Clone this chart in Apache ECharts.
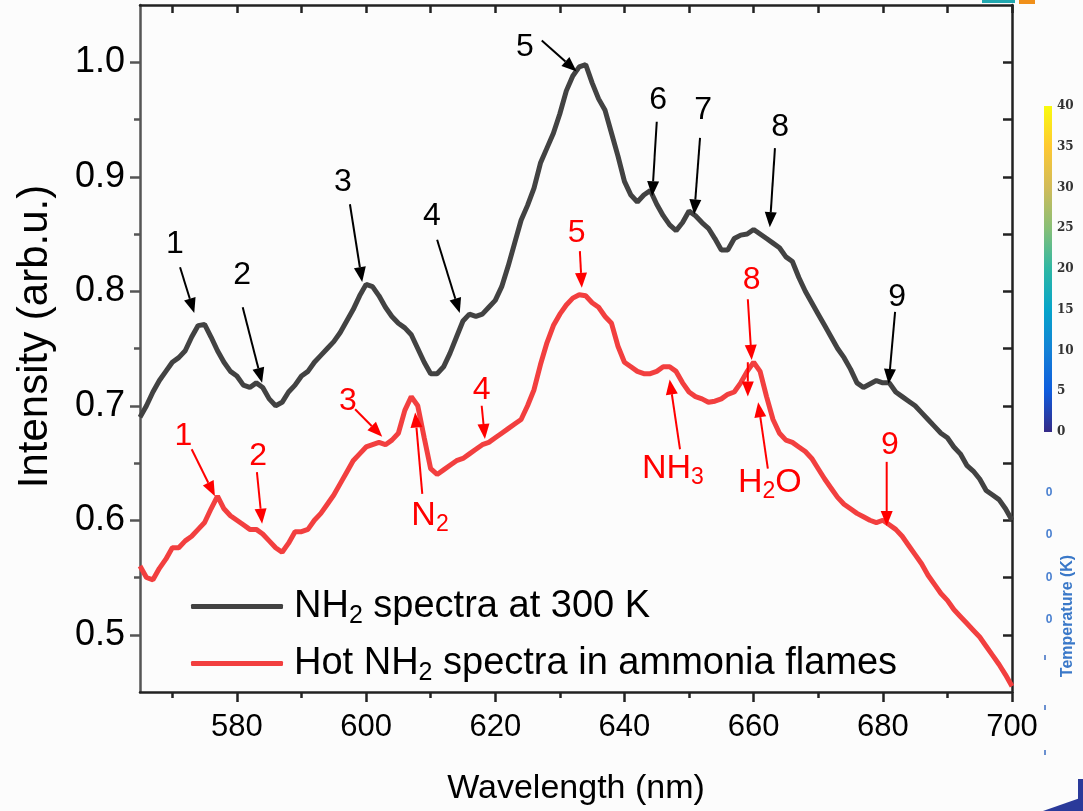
<!DOCTYPE html>
<html>
<head>
<meta charset="utf-8">
<title>NH2 spectra</title>
<script src="https://cdn.jsdelivr.net/npm/echarts/dist/echarts.min.js"></script>
<style>
  html, body { margin: 0; padding: 0; background: #fcfcfc; }
  #chart { width: 1083px; height: 811px; }
</style>
</head>
<body>
<div id="chart"></div>
<script>
// intensity, one value per nm from 565 to 700
const startWavelength = 565
const blackIntensity = [
  0.690, 0.700, 0.712, 0.722, 0.730, 0.738, 0.742, 0.748, 0.760, 0.770,
  0.771, 0.760, 0.748, 0.738, 0.730, 0.726, 0.718, 0.716, 0.720, 0.716,
  0.706, 0.700, 0.703, 0.712, 0.718, 0.726, 0.730, 0.738, 0.744, 0.750,
  0.756, 0.764, 0.774, 0.784, 0.796, 0.806, 0.804, 0.796, 0.786, 0.778,
  0.772, 0.768, 0.762, 0.750, 0.738, 0.728, 0.728, 0.734, 0.746, 0.760,
  0.774, 0.780, 0.778, 0.780, 0.786, 0.792, 0.804, 0.822, 0.842, 0.862,
  0.875, 0.890, 0.912, 0.925, 0.938, 0.955, 0.975, 0.988, 0.996, 0.998,
  0.982, 0.968, 0.958, 0.938, 0.918, 0.896, 0.884, 0.878, 0.884, 0.888,
  0.876, 0.866, 0.858, 0.853, 0.860, 0.870, 0.866, 0.860, 0.855, 0.846,
  0.836, 0.836, 0.846, 0.849, 0.850, 0.854, 0.850, 0.846, 0.842, 0.838,
  0.830, 0.826, 0.812, 0.800, 0.790, 0.780, 0.770, 0.760, 0.750, 0.742,
  0.732, 0.720, 0.716, 0.719, 0.722, 0.720, 0.720, 0.712, 0.708, 0.704,
  0.700, 0.694, 0.688, 0.682, 0.676, 0.672, 0.664, 0.658, 0.648, 0.643,
  0.636, 0.626, 0.622, 0.618, 0.610, 0.600
]
const redIntensity = [
  0.560, 0.550, 0.548, 0.558, 0.566, 0.576, 0.576, 0.582, 0.586, 0.592,
  0.598, 0.610, 0.621, 0.610, 0.604, 0.600, 0.596, 0.592, 0.592, 0.588,
  0.582, 0.576, 0.572, 0.580, 0.590, 0.590, 0.592, 0.600, 0.606, 0.614,
  0.622, 0.632, 0.642, 0.652, 0.658, 0.664, 0.666, 0.668, 0.666, 0.670,
  0.676, 0.696, 0.708, 0.700, 0.672, 0.645, 0.640, 0.644, 0.648, 0.652,
  0.654, 0.658, 0.662, 0.666, 0.668, 0.672, 0.676, 0.680, 0.684, 0.688,
  0.700, 0.714, 0.736, 0.755, 0.770, 0.780, 0.788, 0.794, 0.797, 0.796,
  0.790, 0.786, 0.778, 0.772, 0.752, 0.738, 0.734, 0.730, 0.728, 0.728,
  0.730, 0.734, 0.734, 0.730, 0.720, 0.712, 0.708, 0.706, 0.703, 0.704,
  0.706, 0.710, 0.712, 0.720, 0.730, 0.738, 0.730, 0.708, 0.688, 0.676,
  0.670, 0.668, 0.664, 0.660, 0.654, 0.645, 0.636, 0.628, 0.620, 0.614,
  0.610, 0.606, 0.603, 0.600, 0.598, 0.600, 0.596, 0.592, 0.586, 0.578,
  0.570, 0.562, 0.552, 0.544, 0.536, 0.530, 0.522, 0.516, 0.510, 0.504,
  0.498, 0.490, 0.482, 0.474, 0.465, 0.455
]
const seriesNames = ['NH2 spectra at 300 K', 'Hot NH2 spectra in ammonia flames']

const xMajorTicks = [580, 600, 620, 640, 660, 680, 700]
const xMinorTicks = [570, 590, 610, 630, 650, 670, 690]
const xTopTicks = [570, 580, 590, 600, 610, 620, 630, 640, 650, 660, 670, 680, 690, 700]
const yMajorTicks = [0.5, 0.6, 0.7, 0.8, 0.9, 1.0]
const yMinorTicks = [0.55, 0.65, 0.75, 0.85, 0.95]
const yRightTicks = [0.5, 0.55, 0.6, 0.65, 0.7, 0.75, 0.8, 0.85, 0.9, 0.95, 1.0]

const colorbarLabels = ['40', '35', '30', '25', '20', '15', '10', '5', '0']

// peak markers: label position, arrow start, arrow end (nm, intensity)
const blackMarks = [
  { t: '1', at: [570.4, 0.841], from: [571.2, 0.821], to: [573.4, 0.781] },
  { t: '2', at: [580.8, 0.814], from: [580.9, 0.786], to: [583.9, 0.720] },
  { t: '3', at: [596.4, 0.895], from: [597.5, 0.876], to: [599.4, 0.808] },
  { t: '4', at: [610.2, 0.866], from: [611.0, 0.845], to: [614.5, 0.781] },
  { t: '5', at: [624.6, 1.013], from: [627.2, 1.019], to: [632.6, 0.992] },
  { t: '6', at: [645.2, 0.967], from: [645.0, 0.948], to: [644.3, 0.883] },
  { t: '7', at: [652.2, 0.958], from: [651.7, 0.934], to: [650.8, 0.867] },
  { t: '8', at: [664.1, 0.943], from: [663.3, 0.925], to: [662.5, 0.856] },
  { t: '9', at: [682.2, 0.795], from: [681.9, 0.782], to: [680.9, 0.719] }
]
const redMarks = [
  { t: '1', at: [571.7, 0.673], from: [573.0, 0.662], to: [576.6, 0.621] },
  { t: '2', at: [583.3, 0.656], from: [583.1, 0.642], to: [583.9, 0.597] },
  { t: '3', at: [597.2, 0.704], from: [598.3, 0.697], to: [602.5, 0.673] },
  { t: 'N{s|2}', at: [609.9, 0.604], from: [608.7, 0.623], to: [607.6, 0.694] },
  { t: '4', at: [617.9, 0.714], from: [617.9, 0.700], to: [618.4, 0.671] },
  { t: '5', at: [632.6, 0.851], from: [633.1, 0.835], to: [633.4, 0.803] },
  { t: 'NH{s|3}', at: [647.5, 0.645], from: [648.6, 0.662], to: [647.0, 0.723] },
  { t: '8', at: [659.7, 0.810], from: [659.1, 0.793], to: [659.7, 0.740] },
  { t: '', at: [659.1, 0.740], from: [659.1, 0.738], to: [659.1, 0.708] },
  { t: 'H{s|2}O', at: [662.5, 0.633], from: [662.2, 0.645], to: [660.7, 0.703] },
  { t: '9', at: [681.1, 0.666], from: [680.6, 0.651], to: [680.6, 0.595] }
]

const FONT = '"Liberation Sans", Arial, Helvetica, sans-serif'
const BLACK_LINE = '#424242'
const RED_LINE = '#f23f3f'

const toPairs = arr => arr.map((v, i) => [startWavelength + i, v])

const chart = echarts.init(document.getElementById('chart'), null, { renderer: 'canvas' })

const frame = { color: '#222', width: 2.5 }
const leftFrame = { color: '#555', width: 2.5 }

chart.setOption({
  backgroundColor: '#fcfcfc',
  animation: false,
  textStyle: { fontFamily: FONT },
  grid: { left: 140, right: 71, top: 5, bottom: 118 },
  legend: {
    orient: 'vertical',
    left: 186,
    top: 579,
    itemWidth: 92,
    itemHeight: 5,
    itemGap: 12,
    icon: 'roundRect',
    data: seriesNames,
    formatter: name => name.replace('NH2', 'NH{s|2}'),
    textStyle: {
      fontSize: 38,
      lineHeight: 42,
      color: '#000',
      fontFamily: FONT,
      padding: [0, 0, 0, 6],
      rich: {
        s: { fontSize: 25, lineHeight: 42, fontFamily: FONT, padding: [20, 0, 0, 0], color: '#000' }
      }
    }
  },
  xAxis: [
    {
      type: 'value',
      min: 565,
      max: 700,
      position: 'bottom',
      name: 'Wavelength (nm)',
      nameLocation: 'middle',
      nameGap: 80,
      nameTextStyle: { fontSize: 34, color: '#000', fontFamily: FONT },
      axisLine: { show: true, onZero: false, lineStyle: frame },
      axisTick: { show: true, customValues: xMajorTicks, length: 10, lineStyle: frame },
      axisLabel: { customValues: xMajorTicks, fontSize: 31, color: '#000', margin: 20, fontFamily: FONT },
      splitLine: { show: false }
    },
    {
      type: 'value',
      min: 565,
      max: 700,
      position: 'bottom',
      axisLine: { show: false, onZero: false },
      axisTick: { show: true, customValues: xMinorTicks, length: 6, lineStyle: frame },
      axisLabel: { show: false },
      splitLine: { show: false }
    },
    {
      type: 'value',
      min: 565,
      max: 700,
      position: 'top',
      axisLine: { show: true, onZero: false, lineStyle: frame },
      axisTick: { show: true, inside: true, customValues: xTopTicks, length: 8, lineStyle: frame },
      axisLabel: { show: false },
      splitLine: { show: false }
    }
  ],
  yAxis: [
    {
      type: 'value',
      min: 0.45,
      max: 1.05,
      position: 'left',
      name: 'Intensity (arb.u.)',
      nameLocation: 'middle',
      nameGap: 84,
      nameTextStyle: { fontSize: 42, color: '#000', fontFamily: FONT, padding: [0, 0, 0, 24] },
      axisLine: { show: true, onZero: false, lineStyle: leftFrame },
      axisTick: { show: true, customValues: yMajorTicks, length: 10, lineStyle: leftFrame },
      axisLabel: {
        customValues: yMajorTicks,
        fontSize: 36,
        color: '#000',
        margin: 15,
        fontFamily: FONT,
        formatter: v => v.toFixed(1)
      },
      splitLine: { show: false }
    },
    {
      type: 'value',
      min: 0.45,
      max: 1.05,
      position: 'left',
      axisLine: { show: false, onZero: false },
      axisTick: { show: true, customValues: yMinorTicks, length: 6, lineStyle: leftFrame },
      axisLabel: { show: false },
      splitLine: { show: false }
    },
    {
      type: 'value',
      min: 0.45,
      max: 1.05,
      position: 'right',
      axisLine: { show: true, onZero: false, lineStyle: frame },
      axisTick: { show: true, inside: true, customValues: yRightTicks, length: 9, lineStyle: frame },
      axisLabel: { show: false },
      splitLine: { show: false }
    }
  ],
  series: [
    {
      name: seriesNames[0],
      type: 'line',
      xAxisIndex: 0,
      yAxisIndex: 0,
      symbol: 'none',
      color: BLACK_LINE,
      lineStyle: { color: BLACK_LINE, width: 5 },
      data: toPairs(blackIntensity)
    },
    {
      name: seriesNames[1],
      type: 'line',
      xAxisIndex: 0,
      yAxisIndex: 0,
      symbol: 'none',
      color: RED_LINE,
      lineStyle: { color: RED_LINE, width: 5 },
      data: toPairs(redIntensity)
    }
  ]
})

// annotations: numbers + arrows, placed through the chart's own scales
function px (p) {
  return chart.convertToPixel({ xAxisIndex: 0, yAxisIndex: 0 }, p)
}

function arrow (from, to, color) {
  const [x1, y1] = px(from)
  const [x2, y2] = px(to)
  const dx = x2 - x1
  const dy = y2 - y1
  const len = Math.hypot(dx, dy)
  const ux = dx / len
  const uy = dy / len
  const hl = 15
  const hw = 6
  const bx = x2 - ux * hl
  const by = y2 - uy * hl
  return [
    { type: 'line', shape: { x1: x1, y1: y1, x2: bx, y2: by }, style: { stroke: color, lineWidth: 2 }, z: 10 },
    {
      type: 'polygon',
      shape: { points: [[x2, y2], [bx - uy * hw, by + ux * hw], [bx + uy * hw, by - ux * hw]] },
      style: { fill: color },
      z: 10
    }
  ]
}

function label (m, color) {
  const [x, y] = px(m.at)
  const chem = m.t.length > 1
  return {
    type: 'text',
    x: x,
    y: y,
    z: 10,
    style: {
      text: m.t,
      fill: color,
      fontSize: chem ? 34 : 32,
      fontFamily: FONT,
      align: 'center',
      verticalAlign: 'middle',
      rich: {
        s: { fontSize: 23, fontFamily: FONT, fill: color, padding: [18, 0, 0, 0] }
      }
    }
  }
}

const graphics = []
blackMarks.forEach(m => {
  graphics.push(label(m, '#000'))
  graphics.push(...arrow(m.from, m.to, '#000'))
})
redMarks.forEach(m => {
  if (m.t) graphics.push(label(m, '#ff0000'))
  graphics.push(...arrow(m.from, m.to, '#ff0000'))
})

// pieces of the neighbouring figure that show at the right edge
const cbTop = 106
const cbBottom = 432
graphics.push({
  type: 'rect',
  shape: { x: 1044, y: cbTop, width: 8, height: cbBottom - cbTop },
  style: {
    fill: new echarts.graphic.LinearGradient(0, 1, 0, 0, [
      { offset: 0, color: '#352a87' },
      { offset: 0.125, color: '#0f5cdd' },
      { offset: 0.25, color: '#1481d6' },
      { offset: 0.375, color: '#06a4ca' },
      { offset: 0.5, color: '#2eb7a4' },
      { offset: 0.625, color: '#87bf77' },
      { offset: 0.75, color: '#d1bb59' },
      { offset: 0.875, color: '#fec832' },
      { offset: 1, color: '#f9fb0e' }
    ])
  }
})
colorbarLabels.forEach((t, i) => {
  graphics.push({
    type: 'text',
    x: 1057,
    y: cbTop + i * (cbBottom - cbTop) / (colorbarLabels.length - 1),
    style: {
      text: t,
      fill: '#333',
      fontSize: 12,
      fontWeight: 'bold',
      fontFamily: '"DejaVu Serif", "Liberation Serif", serif',
      align: 'left',
      verticalAlign: 'middle'
    }
  })
})
graphics.push({
  type: 'text',
  x: 1068,
  y: 616,
  rotation: Math.PI / 2,
  style: {
    text: 'Temperature (K)',
    fill: '#3a78c8',
    fontSize: 16,
    fontWeight: 'bold',
    fontFamily: FONT,
    align: 'center',
    verticalAlign: 'middle'
  }
})
;[493, 535, 578, 620].forEach(y => {
  graphics.push({
    type: 'text',
    x: 1049,
    y: y,
    style: { text: '0', fill: '#4a80d0', fontSize: 12, fontWeight: 'bold', fontFamily: FONT, align: 'center', verticalAlign: 'middle' }
  })
})
;[655, 705, 750].forEach(y => {
  graphics.push({ type: 'rect', shape: { x: 1044, y: y, width: 2, height: 5 }, style: { fill: '#6a90d0' } })
})
graphics.push({
  type: 'polygon',
  shape: { points: [[1043, 811], [1083, 797], [1083, 811]] },
  style: { fill: '#2a3a9a' }
})
graphics.push({ type: 'rect', shape: { x: 1078, y: 779, width: 5, height: 22 }, style: { fill: '#2a3a9a' } })
graphics.push({ type: 'rect', shape: { x: 982, y: 0, width: 33, height: 3 }, style: { fill: '#21a8b0' } })
graphics.push({ type: 'rect', shape: { x: 1019, y: 0, width: 16, height: 4 }, style: { fill: '#f0901a' } })

chart.setOption({ graphic: { elements: graphics } })
</script>
</body>
</html>
